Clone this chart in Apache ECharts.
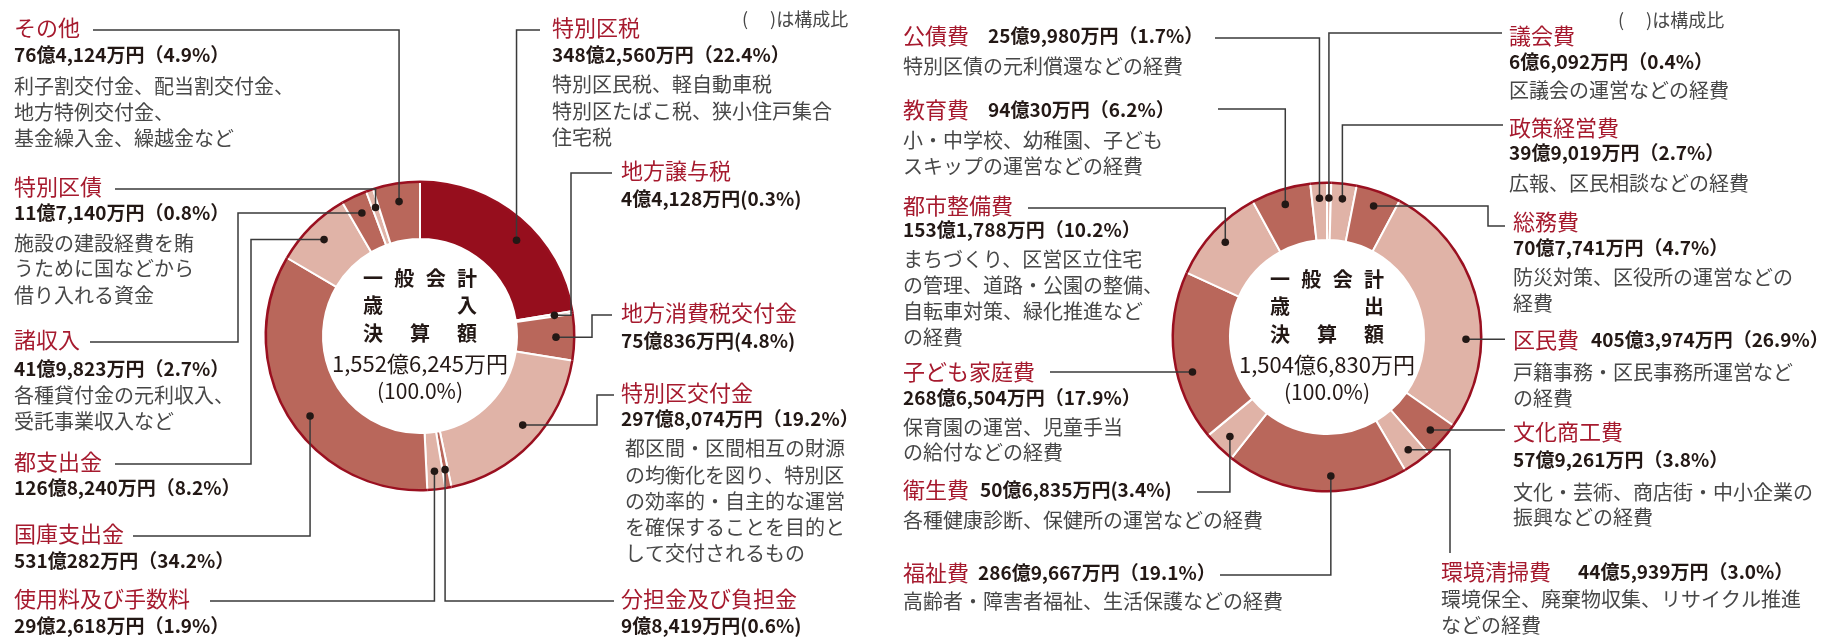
<!DOCTYPE html>
<html lang="ja">
<head>
<meta charset="UTF-8">
<title>一般会計 歳入・歳出決算額</title>
<script src="https://cdn.jsdelivr.net/npm/echarts@6/dist/echarts.min.js"></script>
<style>
    html, body { margin: 0; padding: 0; background: #fff; }
    #chart { width: 1830px; height: 640px; }
</style>
</head>
<body>
<div id="chart"></div>
<script type="text/javascript">
    // 歳入 (単位: 万円)
    const revNames = ['特別区税', '地方譲与税', '地方消費税交付金', '特別区交付金', '分担金及び負担金',
        '使用料及び手数料', '国庫支出金', '都支出金', '諸収入', '特別区債', 'その他'];
    const revValues = [3482560, 44128, 750836, 2978074, 98419, 292618, 5310282, 1268240, 419823, 117140, 764124];
    const revPct = [22.4, 0.3, 4.8, 19.2, 0.6, 1.9, 34.2, 8.2, 2.7, 0.8, 4.9];
    const revTotal = 15526245;
    const revDesc = [
        ['特別区民税、軽自動車税', '特別区たばこ税、狭小住戸集合', '住宅税'],
        [], [],
        ['都区間・区間相互の財源', 'の均衡化を図り、特別区', 'の効率的・自主的な運営', 'を確保することを目的と', 'して交付されるもの'],
        [], [], [], [],
        ['各種貸付金の元利収入、', '受託事業収入など'],
        ['施設の建設経費を賄', 'うために国などから', '借り入れる資金'],
        ['利子割交付金、配当割交付金、', '地方特例交付金、', '基金繰入金、繰越金など']
    ];

    // 歳出 (単位: 万円)
    const expNames = ['議会費', '政策経営費', '総務費', '区民費', '文化商工費', '環境清掃費',
        '福祉費', '衛生費', '子ども家庭費', '都市整備費', '教育費', '公債費'];
    const expValues = [66092, 399019, 707741, 4053974, 579261, 445939, 2869667, 506835, 2686504, 1531788, 940030, 259980];
    const expPct = [0.4, 2.7, 4.7, 26.9, 3.8, 3.0, 19.1, 3.4, 17.9, 10.2, 6.2, 1.7];
    const expTotal = 15046830;
    const expDesc = [
        ['区議会の運営などの経費'],
        ['広報、区民相談などの経費'],
        ['防災対策、区役所の運営などの', '経費'],
        ['戸籍事務・区民事務所運営など', 'の経費'],
        ['文化・芸術、商店街・中小企業の', '振興などの経費'],
        ['環境保全、廃棄物収集、リサイクル推進', 'などの経費'],
        ['高齢者・障害者福祉、生活保護などの経費'],
        ['各種健康診断、保健所の運営などの経費'],
        ['保育園の運営、児童手当', 'の給付などの経費'],
        ['まちづくり、区営区立住宅', 'の管理、道路・公園の整備、', '自転車対策、緑化推進など', 'の経費'],
        ['小・中学校、幼稚園、子ども', 'スキップの運営などの経費'],
        ['特別区債の元利償還などの経費']
    ];

    const revCenter = ['一般会計', '歳入', '決算額'];
    const expCenter = ['一般会計', '歳出', '決算額'];
    const noteText = '(　 )は構成比';

    // styles
    const FONT = '"Noto Sans CJK JP", "Noto Sans", sans-serif';
    const TONE = {d: '#960e1d', m: '#b9675b', l: '#e0b3a7'};
    const RING = '#9a1020';
    const RED = '#a61a2e';
    const INK = '#231815';
    const GRAY = '#474747';
    const revTone = ['d', 'l', 'm', 'l', 'm', 'l', 'm', 'l', 'm', 'l', 'm'];
    const expTone = ['l', 'l', 'm', 'l', 'm', 'l', 'm', 'l', 'm', 'l', 'm', 'l'];

    // label placement (title x/y, value pos, leader route)
    const revLayout = [
        {tx: 552, ty: 28, vy: 55, dy: [84, 111, 137], lx: 540, route: 'hv', frac: 0.56},
        {tx: 621, ty: 171, vy: 199, lx: 612, route: 'hvh', ex: 571, tight: true},
        {tx: 621, ty: 313, vy: 341, lx: 612, route: 'hvh', ex: 592, tight: true},
        {tx: 621, ty: 393, vy: 419, dx: 625, dy: [448, 475, 501, 527, 553], lx: 614, route: 'hvh', ex: 597, frac: 0.46},
        {tx: 621, ty: 599, vy: 626, lx: 614, route: 'hv', tight: true},
        {tx: 14, ty: 599, vy: 626, lx: 210, route: 'hv'},
        {tx: 14, ty: 534, vy: 561, lx: 133, route: 'hv', frac: 0.46},
        {tx: 14, ty: 462, vy: 488, lx: 115, route: 'hvh', ex: 251},
        {tx: 14, ty: 340, vy: 369, dy: [395, 421], lx: 90, route: 'hvh', ex: 238},
        {tx: 14, ty: 187, vy: 213, dy: [243, 268, 295], lx: 115, route: 'hv'},
        {tx: 14, ty: 28, vy: 55, dy: [86, 112, 138], lx: 93, route: 'hv'}
    ];
    const expLayout = [
        {tx: 1509, ty: 36, vy: 62, dy: [90], lx: 1502, ly: 33, route: 'hv'},
        {tx: 1509, ty: 128, vy: 153, dy: [183], lx: 1503, ly: 125, route: 'hv'},
        {tx: 1513, ty: 222, vy: 248, dy: [277, 303], lx: 1505, ly: 226, route: 'hvh', ex: 1488},
        {tx: 1513, ty: 340, vx: 1591, dy: [372, 398], lx: 1505, route: 'h', frac: 0.648},
        {tx: 1513, ty: 432, vy: 460, dy: [492, 517], lx: 1505, route: 'h'},
        {tx: 1441, ty: 572, vx: 1578, dy: [599, 625], lx: 1450, ly: 553, route: 'vh'},
        {tx: 903, ty: 573, vx: 978, dy: [601], lx: 1220, ly: 575, route: 'hv', frac: 0.42},
        {tx: 903, ty: 490, vx: 980, dy: [520], lx: 1197, ly: 492, route: 'hv', tight: true},
        {tx: 903, ty: 372, vy: 398, dy: [427, 452], lx: 1050, route: 'h', frac: 0.39},
        {tx: 903, ty: 206, vy: 230, dy: [259, 285, 311, 337], lx: 1028, ly: 208, route: 'hv'},
        {tx: 903, ty: 110, vx: 988, dy: [140, 166], lx: 1218, ly: 109, route: 'hv'},
        {tx: 903, ty: 36, vx: 988, dy: [66], lx: 1215, ly: 38, route: 'hv'}
    ];

    function yen(v) {
        let oku = Math.floor(v / 10000), man = v % 10000;
        return oku.toLocaleString('en-US') + '億' + man.toLocaleString('en-US') + '万円';
    }

    function text(x, y, s, size, color, weight, align) {
        return {
            type: 'text', x: x, y: y, z: 100, silent: true,
            style: {
                text: s, fill: color, fontSize: size, fontFamily: FONT, fontWeight: weight || 'normal',
                textAlign: align || 'left', textVerticalAlign: 'middle',
                align: align || 'left', verticalAlign: 'middle'
            }
        };
    }

    function donut(center, names, values, tones) {
        return [
            {
                type: 'pie', center: center, radius: [97, 155], startAngle: 90, clockwise: true,
                silent: true, animation: false, avoidLabelOverlap: false,
                label: {show: false}, labelLine: {show: false},
                itemStyle: {borderColor: '#fff', borderWidth: 2},
                data: names.map((n, i) => ({name: n, value: values[i], itemStyle: {color: TONE[tones[i]]}}))
            },
            {
                type: 'pie', center: center, radius: [153, 155.5], startAngle: 90, clockwise: true,
                silent: true, animation: false, z: 3,
                label: {show: false}, labelLine: {show: false},
                itemStyle: {color: RING, borderWidth: 0},
                data: names.map((n, i) => ({name: n, value: values[i]}))
            }
        ];
    }

    let chart = echarts.init(document.getElementById('chart'));
    chart.setOption({
        animation: false,
        series: [
            ...donut([420, 336], revNames, revValues, revTone),
            ...donut([1327, 337], expNames, expValues, expTone)
        ]
    });

    function annotate(seriesIndex, names, values, pct, desc, layout, dotR) {
        let data = chart.getModel().getSeriesByIndex(seriesIndex).getData();
        let els = [];
        names.forEach((name, i) => {
            let L = layout[i];
            let lay = data.getItemLayout(i);
            let f = L.frac == null ? 0.5 : L.frac;
            let a = lay.startAngle + f * (lay.endAngle - lay.startAngle);
            let px = lay.cx + dotR * Math.cos(a);
            let py = lay.cy + dotR * Math.sin(a);
            let ly = L.ly == null ? L.ty + 2 : L.ly;
            let pts;
            if (L.route === 'hv') pts = [[L.lx, ly], [px, ly], [px, py]];
            else if (L.route === 'hvh') pts = [[L.lx, ly], [L.ex, ly], [L.ex, py], [px, py]];
            else if (L.route === 'vh') pts = [[L.lx, ly], [L.lx, py], [px, py]];
            else pts = [[L.lx, py], [px, py]];
            els.push({
                type: 'polyline', z: 100, silent: true, shape: {points: pts},
                style: {stroke: '#3a3a3a', lineWidth: 1.5, fill: null}
            });
            els.push({
                type: 'circle', z: 101, silent: true, shape: {cx: px, cy: py, r: 3.8},
                style: {fill: INK}
            });
            els.push(text(L.tx, L.ty, name, 22, RED));
            let p = pct[i].toFixed(1);
            let val = yen(values[i]) + (L.tight ? '(' + p + '%)' : '（' + p + '%）');
            if (L.vx) els.push(text(L.vx, L.ty, val, 19, INK, 'bold'));
            else els.push(text(L.tx, L.vy, val, 19, INK, 'bold'));
            (desc[i] || []).forEach((line, k) => {
                els.push(text(L.dx || L.tx, L.dy[k], line, 20, GRAY));
            });
        });
        return els;
    }

    function centerText(seriesIndex, rows, total) {
        let lay = chart.getModel().getSeriesByIndex(seriesIndex).getData().getItemLayout(0);
        let cx = lay.cx, cy = lay.cy;
        let offs = [-58, -31, -3];
        let els = [];
        rows.forEach((row, r) => {
            let chars = row.split('');
            chars.forEach((c, k) => {
                let x = cx - 47 + k * 94 / (chars.length - 1);
                els.push(text(x, cy + offs[r], c, 20, INK, 'bold', 'center'));
            });
        });
        els.push(text(cx, cy + 28, yen(total), 22, INK, 'normal', 'center'));
        els.push(text(cx, cy + 55, '(100.0%)', 21, INK, 'normal', 'center'));
        return els;
    }

    chart.setOption({
        graphic: {
            elements: [
                ...annotate(0, revNames, revValues, revPct, revDesc, revLayout, 136),
                ...annotate(2, expNames, expValues, expPct, expDesc, expLayout, 139),
                ...centerText(0, revCenter, revTotal),
                ...centerText(2, expCenter, expTotal),
                text(742, 19, noteText, 18, GRAY),
                text(1618, 20, noteText, 18, GRAY)
            ]
        }
    });
</script>
</body>
</html>
